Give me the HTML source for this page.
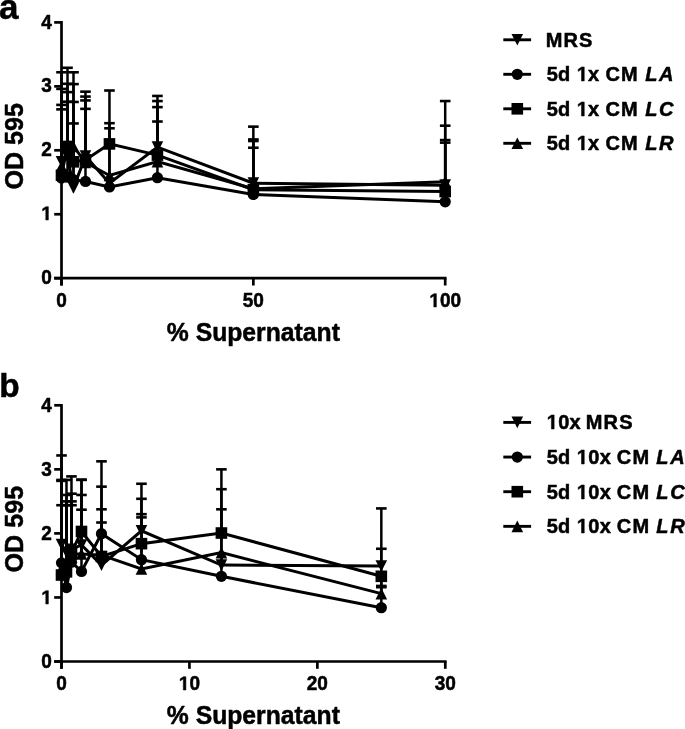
<!DOCTYPE html>
<html><head><meta charset="utf-8"><style>
html,body{margin:0;padding:0;background:#fff;overflow:hidden}
svg{display:block;will-change:transform}
text{font-family:"Liberation Sans", sans-serif;font-weight:bold;fill:#000}
</style></head><body>
<svg width="685" height="729" viewBox="0 0 685 729" stroke="#000" fill="#000">
<text x="51.9" y="284" font-size="19" text-anchor="end" transform="matrix(1,0,0,1.02,0,-5.68)" stroke="#000" stroke-width="0.5" stroke-linejoin="round" >0</text>
<path transform="translate(41.33,220) scale(0.00928,-0.00946)" stroke="#000" stroke-width="53.89" stroke-linejoin="round" d="M478,0L759,0L759,1409L493,1409L140,1180L140,959L478,1170Z"/>
<text x="51.9" y="220" font-size="19" text-anchor="end" transform="matrix(1,0,0,1.02,0,-4.4)" stroke="#000" stroke-width="0.5" stroke-linejoin="round" > </text>
<text x="51.9" y="156" font-size="19" text-anchor="end" transform="matrix(1,0,0,1.02,0,-3.12)" stroke="#000" stroke-width="0.5" stroke-linejoin="round" >2</text>
<text x="51.9" y="92" font-size="19" text-anchor="end" transform="matrix(1,0,0,1.02,0,-1.84)" stroke="#000" stroke-width="0.5" stroke-linejoin="round" >3</text>
<text x="51.9" y="29" font-size="19" text-anchor="end" transform="matrix(1,0,0,1.02,0,-0.58)" stroke="#000" stroke-width="0.5" stroke-linejoin="round" >4</text>
<text x="61.5" y="307" font-size="19" text-anchor="middle" transform="matrix(1,0,0,1.02,0,-6.14)" stroke="#000" stroke-width="0.5" stroke-linejoin="round" >0</text>
<text x="253.35" y="307" font-size="19" text-anchor="middle" transform="matrix(1,0,0,1.02,0,-6.14)" stroke="#000" stroke-width="0.5" stroke-linejoin="round" >50</text>
<path transform="translate(429.35,307) scale(0.00928,-0.00946)" stroke="#000" stroke-width="53.89" stroke-linejoin="round" d="M478,0L759,0L759,1409L493,1409L140,1180L140,959L478,1170Z"/>
<text x="445.2" y="307" font-size="19" text-anchor="middle" transform="matrix(1,0,0,1.02,0,-6.14)" stroke="#000" stroke-width="0.5" stroke-linejoin="round" > 00</text>
<line x1="61.5" y1="161.81" x2="61.5" y2="72.28" stroke-width="2.5" stroke-linecap="butt"/>
<line x1="56.2" y1="72.28" x2="66.8" y2="72.28" stroke-width="2.6" stroke-linecap="butt"/>
<line x1="67.5" y1="156.69" x2="67.5" y2="67.8" stroke-width="2.5" stroke-linecap="butt"/>
<line x1="62.2" y1="67.8" x2="72.8" y2="67.8" stroke-width="2.6" stroke-linecap="butt"/>
<line x1="73.49" y1="188.03" x2="73.49" y2="72.28" stroke-width="2.5" stroke-linecap="butt"/>
<line x1="68.19" y1="72.28" x2="78.79" y2="72.28" stroke-width="2.6" stroke-linecap="butt"/>
<line x1="85.48" y1="156.06" x2="85.48" y2="91.66" stroke-width="2.5" stroke-linecap="butt"/>
<line x1="80.18" y1="91.66" x2="90.78" y2="91.66" stroke-width="2.6" stroke-linecap="butt"/>
<line x1="109.46" y1="183.23" x2="109.46" y2="90.51" stroke-width="2.5" stroke-linecap="butt"/>
<line x1="104.16" y1="90.51" x2="114.76" y2="90.51" stroke-width="2.6" stroke-linecap="butt"/>
<line x1="157.43" y1="147.1" x2="157.43" y2="95.94" stroke-width="2.5" stroke-linecap="butt"/>
<line x1="152.12" y1="95.94" x2="162.73" y2="95.94" stroke-width="2.6" stroke-linecap="butt"/>
<line x1="253.35" y1="183.17" x2="253.35" y2="126.64" stroke-width="2.5" stroke-linecap="butt"/>
<line x1="248.05" y1="126.64" x2="258.65" y2="126.64" stroke-width="2.6" stroke-linecap="butt"/>
<line x1="445.2" y1="185.15" x2="445.2" y2="101.06" stroke-width="2.5" stroke-linecap="butt"/>
<line x1="439.9" y1="101.06" x2="450.5" y2="101.06" stroke-width="2.6" stroke-linecap="butt"/>
<line x1="61.5" y1="178.12" x2="61.5" y2="88.91" stroke-width="2.5" stroke-linecap="butt"/>
<line x1="56.2" y1="88.91" x2="66.8" y2="88.91" stroke-width="2.6" stroke-linecap="butt"/>
<line x1="67.5" y1="177.16" x2="67.5" y2="83.79" stroke-width="2.5" stroke-linecap="butt"/>
<line x1="62.2" y1="83.79" x2="72.8" y2="83.79" stroke-width="2.6" stroke-linecap="butt"/>
<line x1="73.49" y1="179.72" x2="73.49" y2="84.11" stroke-width="2.5" stroke-linecap="butt"/>
<line x1="68.19" y1="84.11" x2="78.79" y2="84.11" stroke-width="2.6" stroke-linecap="butt"/>
<line x1="85.48" y1="181.44" x2="85.48" y2="96.58" stroke-width="2.5" stroke-linecap="butt"/>
<line x1="80.18" y1="96.58" x2="90.78" y2="96.58" stroke-width="2.6" stroke-linecap="butt"/>
<line x1="109.46" y1="186.94" x2="109.46" y2="123.19" stroke-width="2.5" stroke-linecap="butt"/>
<line x1="104.16" y1="123.19" x2="114.76" y2="123.19" stroke-width="2.6" stroke-linecap="butt"/>
<line x1="157.43" y1="177.73" x2="157.43" y2="101.06" stroke-width="2.5" stroke-linecap="butt"/>
<line x1="152.12" y1="101.06" x2="162.73" y2="101.06" stroke-width="2.6" stroke-linecap="butt"/>
<line x1="253.35" y1="194.43" x2="253.35" y2="139.43" stroke-width="2.5" stroke-linecap="butt"/>
<line x1="248.05" y1="139.43" x2="258.65" y2="139.43" stroke-width="2.6" stroke-linecap="butt"/>
<line x1="445.2" y1="201.78" x2="445.2" y2="125.68" stroke-width="2.5" stroke-linecap="butt"/>
<line x1="439.9" y1="125.68" x2="450.5" y2="125.68" stroke-width="2.6" stroke-linecap="butt"/>
<line x1="61.5" y1="175.24" x2="61.5" y2="104.9" stroke-width="2.5" stroke-linecap="butt"/>
<line x1="56.2" y1="104.9" x2="66.8" y2="104.9" stroke-width="2.6" stroke-linecap="butt"/>
<line x1="67.5" y1="146.46" x2="67.5" y2="92.11" stroke-width="2.5" stroke-linecap="butt"/>
<line x1="62.2" y1="92.11" x2="72.8" y2="92.11" stroke-width="2.6" stroke-linecap="butt"/>
<line x1="73.49" y1="161.81" x2="73.49" y2="101.95" stroke-width="2.5" stroke-linecap="butt"/>
<line x1="68.19" y1="101.95" x2="78.79" y2="101.95" stroke-width="2.6" stroke-linecap="butt"/>
<line x1="85.48" y1="159.89" x2="85.48" y2="100.42" stroke-width="2.5" stroke-linecap="butt"/>
<line x1="80.18" y1="100.42" x2="90.78" y2="100.42" stroke-width="2.6" stroke-linecap="butt"/>
<line x1="109.46" y1="143.9" x2="109.46" y2="128.3" stroke-width="2.5" stroke-linecap="butt"/>
<line x1="104.16" y1="128.3" x2="114.76" y2="128.3" stroke-width="2.6" stroke-linecap="butt"/>
<line x1="157.43" y1="155.1" x2="157.43" y2="107.13" stroke-width="2.5" stroke-linecap="butt"/>
<line x1="152.12" y1="107.13" x2="162.73" y2="107.13" stroke-width="2.6" stroke-linecap="butt"/>
<line x1="253.35" y1="189.63" x2="253.35" y2="141.03" stroke-width="2.5" stroke-linecap="butt"/>
<line x1="248.05" y1="141.03" x2="258.65" y2="141.03" stroke-width="2.6" stroke-linecap="butt"/>
<line x1="445.2" y1="191.61" x2="445.2" y2="140.07" stroke-width="2.5" stroke-linecap="butt"/>
<line x1="439.9" y1="140.07" x2="450.5" y2="140.07" stroke-width="2.6" stroke-linecap="butt"/>
<line x1="61.5" y1="166.29" x2="61.5" y2="109.37" stroke-width="2.5" stroke-linecap="butt"/>
<line x1="56.2" y1="109.37" x2="66.8" y2="109.37" stroke-width="2.6" stroke-linecap="butt"/>
<line x1="67.5" y1="153.5" x2="67.5" y2="101.7" stroke-width="2.5" stroke-linecap="butt"/>
<line x1="62.2" y1="101.7" x2="72.8" y2="101.7" stroke-width="2.6" stroke-linecap="butt"/>
<line x1="73.49" y1="146.46" x2="73.49" y2="123.44" stroke-width="2.5" stroke-linecap="butt"/>
<line x1="68.19" y1="123.44" x2="78.79" y2="123.44" stroke-width="2.6" stroke-linecap="butt"/>
<line x1="85.48" y1="162.45" x2="85.48" y2="108.86" stroke-width="2.5" stroke-linecap="butt"/>
<line x1="80.18" y1="108.86" x2="90.78" y2="108.86" stroke-width="2.6" stroke-linecap="butt"/>
<line x1="157.43" y1="161.62" x2="157.43" y2="121.52" stroke-width="2.5" stroke-linecap="butt"/>
<line x1="152.12" y1="121.52" x2="162.73" y2="121.52" stroke-width="2.6" stroke-linecap="butt"/>
<line x1="253.35" y1="188.67" x2="253.35" y2="147.74" stroke-width="2.5" stroke-linecap="butt"/>
<line x1="248.05" y1="147.74" x2="258.65" y2="147.74" stroke-width="2.6" stroke-linecap="butt"/>
<line x1="445.2" y1="181.64" x2="445.2" y2="142.63" stroke-width="2.5" stroke-linecap="butt"/>
<line x1="439.9" y1="142.63" x2="450.5" y2="142.63" stroke-width="2.6" stroke-linecap="butt"/>
<polyline fill="none" stroke-width="3" stroke-linejoin="miter" points="61.5,161.81 67.5,156.69 73.49,188.03 85.48,156.06 109.46,183.23 157.43,147.1 253.35,183.17 445.2,185.15"/>
<polyline fill="none" stroke-width="3" stroke-linejoin="miter" points="61.5,178.12 67.5,177.16 73.49,179.72 85.48,181.44 109.46,186.94 157.43,177.73 253.35,194.43 445.2,201.78"/>
<polyline fill="none" stroke-width="3" stroke-linejoin="miter" points="61.5,175.24 67.5,146.46 73.49,161.81 85.48,159.89 109.46,143.9 157.43,155.1 253.35,189.63 445.2,191.61"/>
<polyline fill="none" stroke-width="3" stroke-linejoin="miter" points="61.5,166.29 67.5,153.5 73.49,146.46 85.48,162.45 109.46,175.5 157.43,161.62 253.35,188.67 445.2,181.64"/>
<path stroke="none" d="M55.7,156.01L67.3,156.01L61.5,167.61Z"/>
<path stroke="none" d="M61.7,150.89L73.3,150.89L67.5,162.5Z"/>
<path stroke="none" d="M67.69,182.23L79.29,182.23L73.49,193.83Z"/>
<path stroke="none" d="M79.68,150.26L91.28,150.26L85.48,161.86Z"/>
<path stroke="none" d="M103.66,177.43L115.26,177.43L109.46,189.03Z"/>
<path stroke="none" d="M151.62,141.3L163.23,141.3L157.43,152.9Z"/>
<path stroke="none" d="M247.55,177.37L259.15,177.37L253.35,188.97Z"/>
<path stroke="none" d="M439.4,179.35L451,179.35L445.2,190.95Z"/>
<circle cx="61.5" cy="178.12" r="5.63" stroke="none"/>
<circle cx="67.5" cy="177.16" r="5.63" stroke="none"/>
<circle cx="73.49" cy="179.72" r="5.63" stroke="none"/>
<circle cx="85.48" cy="181.44" r="5.63" stroke="none"/>
<circle cx="109.46" cy="186.94" r="5.63" stroke="none"/>
<circle cx="157.43" cy="177.73" r="5.63" stroke="none"/>
<circle cx="253.35" cy="194.43" r="5.63" stroke="none"/>
<circle cx="445.2" cy="201.78" r="5.63" stroke="none"/>
<rect x="55.7" y="169.44" width="11.6" height="11.6" stroke="none"/>
<rect x="61.7" y="140.66" width="11.6" height="11.6" stroke="none"/>
<rect x="67.69" y="156.01" width="11.6" height="11.6" stroke="none"/>
<rect x="79.68" y="154.09" width="11.6" height="11.6" stroke="none"/>
<rect x="103.66" y="138.1" width="11.6" height="11.6" stroke="none"/>
<rect x="151.62" y="149.3" width="11.6" height="11.6" stroke="none"/>
<rect x="247.55" y="183.83" width="11.6" height="11.6" stroke="none"/>
<rect x="439.4" y="185.81" width="11.6" height="11.6" stroke="none"/>
<path stroke="none" d="M61.5,160.49L67.3,172.09L55.7,172.09Z"/>
<path stroke="none" d="M67.5,147.7L73.3,159.3L61.7,159.3Z"/>
<path stroke="none" d="M73.49,140.66L79.29,152.26L67.69,152.26Z"/>
<path stroke="none" d="M85.48,156.65L91.28,168.25L79.68,168.25Z"/>
<path stroke="none" d="M109.46,169.7L115.26,181.3L103.66,181.3Z"/>
<path stroke="none" d="M157.43,155.82L163.23,167.42L151.62,167.42Z"/>
<path stroke="none" d="M253.35,182.87L259.15,194.47L247.55,194.47Z"/>
<path stroke="none" d="M445.2,175.84L451,187.44L439.4,187.44Z"/>
<line x1="61.5" y1="21.05" x2="61.5" y2="285.5" stroke-width="2.7" stroke-linecap="butt"/>
<line x1="54.2" y1="278.2" x2="446.55" y2="278.2" stroke-width="2.7" stroke-linecap="butt"/>
<line x1="54.2" y1="278.2" x2="61.5" y2="278.2" stroke-width="2.7" stroke-linecap="butt"/>
<line x1="54.2" y1="214.25" x2="61.5" y2="214.25" stroke-width="2.7" stroke-linecap="butt"/>
<line x1="54.2" y1="150.3" x2="61.5" y2="150.3" stroke-width="2.7" stroke-linecap="butt"/>
<line x1="54.2" y1="86.35" x2="61.5" y2="86.35" stroke-width="2.7" stroke-linecap="butt"/>
<line x1="54.2" y1="22.4" x2="61.5" y2="22.4" stroke-width="2.7" stroke-linecap="butt"/>
<line x1="61.5" y1="278.2" x2="61.5" y2="285.5" stroke-width="2.7" stroke-linecap="butt"/>
<line x1="253.35" y1="278.2" x2="253.35" y2="285.5" stroke-width="2.7" stroke-linecap="butt"/>
<line x1="445.2" y1="278.2" x2="445.2" y2="285.5" stroke-width="2.7" stroke-linecap="butt"/>
<text x="51.9" y="668" font-size="19" text-anchor="end" transform="matrix(1,0,0,1.02,0,-13.36)" stroke="#000" stroke-width="0.5" stroke-linejoin="round" >0</text>
<path transform="translate(41.33,604) scale(0.00928,-0.00946)" stroke="#000" stroke-width="53.89" stroke-linejoin="round" d="M478,0L759,0L759,1409L493,1409L140,1180L140,959L478,1170Z"/>
<text x="51.9" y="604" font-size="19" text-anchor="end" transform="matrix(1,0,0,1.02,0,-12.08)" stroke="#000" stroke-width="0.5" stroke-linejoin="round" > </text>
<text x="51.9" y="540" font-size="19" text-anchor="end" transform="matrix(1,0,0,1.02,0,-10.8)" stroke="#000" stroke-width="0.5" stroke-linejoin="round" >2</text>
<text x="51.9" y="476" font-size="19" text-anchor="end" transform="matrix(1,0,0,1.02,0,-9.52)" stroke="#000" stroke-width="0.5" stroke-linejoin="round" >3</text>
<text x="51.9" y="412" font-size="19" text-anchor="end" transform="matrix(1,0,0,1.02,0,-8.24)" stroke="#000" stroke-width="0.5" stroke-linejoin="round" >4</text>
<text x="61.5" y="690" font-size="19" text-anchor="middle" transform="matrix(1,0,0,1.02,0,-13.8)" stroke="#000" stroke-width="0.5" stroke-linejoin="round" >0</text>
<path transform="translate(178.86,690) scale(0.00928,-0.00946)" stroke="#000" stroke-width="53.89" stroke-linejoin="round" d="M478,0L759,0L759,1409L493,1409L140,1180L140,959L478,1170Z"/>
<text x="189.43" y="690" font-size="19" text-anchor="middle" transform="matrix(1,0,0,1.02,0,-13.8)" stroke="#000" stroke-width="0.5" stroke-linejoin="round" > 0</text>
<text x="317.36" y="690" font-size="19" text-anchor="middle" transform="matrix(1,0,0,1.02,0,-13.8)" stroke="#000" stroke-width="0.5" stroke-linejoin="round" >20</text>
<text x="445.29" y="690" font-size="19" text-anchor="middle" transform="matrix(1,0,0,1.02,0,-13.8)" stroke="#000" stroke-width="0.5" stroke-linejoin="round" >30</text>
<line x1="61.5" y1="544.54" x2="61.5" y2="455.45" stroke-width="2.5" stroke-linecap="butt"/>
<line x1="56.2" y1="455.45" x2="66.8" y2="455.45" stroke-width="2.6" stroke-linecap="butt"/>
<line x1="66.49" y1="552.62" x2="66.49" y2="479.92" stroke-width="2.5" stroke-linecap="butt"/>
<line x1="61.19" y1="479.92" x2="71.79" y2="479.92" stroke-width="2.6" stroke-linecap="butt"/>
<line x1="71.48" y1="549.41" x2="71.48" y2="476.4" stroke-width="2.5" stroke-linecap="butt"/>
<line x1="66.18" y1="476.4" x2="76.78" y2="476.4" stroke-width="2.6" stroke-linecap="butt"/>
<line x1="81.49" y1="544.93" x2="81.49" y2="479.92" stroke-width="2.5" stroke-linecap="butt"/>
<line x1="76.19" y1="479.92" x2="86.79" y2="479.92" stroke-width="2.6" stroke-linecap="butt"/>
<line x1="101.48" y1="565.1" x2="101.48" y2="461.34" stroke-width="2.5" stroke-linecap="butt"/>
<line x1="96.18" y1="461.34" x2="106.78" y2="461.34" stroke-width="2.6" stroke-linecap="butt"/>
<line x1="141.46" y1="530.84" x2="141.46" y2="483.76" stroke-width="2.5" stroke-linecap="butt"/>
<line x1="136.16" y1="483.76" x2="146.76" y2="483.76" stroke-width="2.6" stroke-linecap="butt"/>
<line x1="221.41" y1="565.1" x2="221.41" y2="469.35" stroke-width="2.5" stroke-linecap="butt"/>
<line x1="216.11" y1="469.35" x2="226.71" y2="469.35" stroke-width="2.6" stroke-linecap="butt"/>
<line x1="381.32" y1="566.07" x2="381.32" y2="508.42" stroke-width="2.5" stroke-linecap="butt"/>
<line x1="376.02" y1="508.42" x2="386.62" y2="508.42" stroke-width="2.6" stroke-linecap="butt"/>
<line x1="61.5" y1="562.86" x2="61.5" y2="479.92" stroke-width="2.5" stroke-linecap="butt"/>
<line x1="56.2" y1="479.92" x2="66.8" y2="479.92" stroke-width="2.6" stroke-linecap="butt"/>
<line x1="66.49" y1="587.52" x2="66.49" y2="494.97" stroke-width="2.5" stroke-linecap="butt"/>
<line x1="61.19" y1="494.97" x2="71.79" y2="494.97" stroke-width="2.6" stroke-linecap="butt"/>
<line x1="71.48" y1="562.22" x2="71.48" y2="493.69" stroke-width="2.5" stroke-linecap="butt"/>
<line x1="66.18" y1="493.69" x2="76.78" y2="493.69" stroke-width="2.6" stroke-linecap="butt"/>
<line x1="81.49" y1="571.45" x2="81.49" y2="494.97" stroke-width="2.5" stroke-linecap="butt"/>
<line x1="76.19" y1="494.97" x2="86.79" y2="494.97" stroke-width="2.6" stroke-linecap="butt"/>
<line x1="101.48" y1="533.72" x2="101.48" y2="486.64" stroke-width="2.5" stroke-linecap="butt"/>
<line x1="96.18" y1="486.64" x2="106.78" y2="486.64" stroke-width="2.6" stroke-linecap="butt"/>
<line x1="141.46" y1="559.66" x2="141.46" y2="498.81" stroke-width="2.5" stroke-linecap="butt"/>
<line x1="136.16" y1="498.81" x2="146.76" y2="498.81" stroke-width="2.6" stroke-linecap="butt"/>
<line x1="221.41" y1="576.31" x2="221.41" y2="489.21" stroke-width="2.5" stroke-linecap="butt"/>
<line x1="216.11" y1="489.21" x2="226.71" y2="489.21" stroke-width="2.6" stroke-linecap="butt"/>
<line x1="381.32" y1="607.7" x2="381.32" y2="548.77" stroke-width="2.5" stroke-linecap="butt"/>
<line x1="376.02" y1="548.77" x2="386.62" y2="548.77" stroke-width="2.6" stroke-linecap="butt"/>
<line x1="61.5" y1="575.03" x2="61.5" y2="480.88" stroke-width="2.5" stroke-linecap="butt"/>
<line x1="56.2" y1="480.88" x2="66.8" y2="480.88" stroke-width="2.6" stroke-linecap="butt"/>
<line x1="66.49" y1="571.83" x2="66.49" y2="505.22" stroke-width="2.5" stroke-linecap="butt"/>
<line x1="61.19" y1="505.22" x2="71.79" y2="505.22" stroke-width="2.6" stroke-linecap="butt"/>
<line x1="71.48" y1="552.62" x2="71.48" y2="505.22" stroke-width="2.5" stroke-linecap="butt"/>
<line x1="66.18" y1="505.22" x2="76.78" y2="505.22" stroke-width="2.6" stroke-linecap="butt"/>
<line x1="81.49" y1="531.48" x2="81.49" y2="509.7" stroke-width="2.5" stroke-linecap="butt"/>
<line x1="76.19" y1="509.7" x2="86.79" y2="509.7" stroke-width="2.6" stroke-linecap="butt"/>
<line x1="101.48" y1="556.46" x2="101.48" y2="509.32" stroke-width="2.5" stroke-linecap="butt"/>
<line x1="96.18" y1="509.32" x2="106.78" y2="509.32" stroke-width="2.6" stroke-linecap="butt"/>
<line x1="141.46" y1="543.65" x2="141.46" y2="514.19" stroke-width="2.5" stroke-linecap="butt"/>
<line x1="136.16" y1="514.19" x2="146.76" y2="514.19" stroke-width="2.6" stroke-linecap="butt"/>
<line x1="221.41" y1="533.02" x2="221.41" y2="509.32" stroke-width="2.5" stroke-linecap="butt"/>
<line x1="216.11" y1="509.32" x2="226.71" y2="509.32" stroke-width="2.6" stroke-linecap="butt"/>
<line x1="381.32" y1="576.31" x2="381.32" y2="585.92" stroke-width="2.5" stroke-linecap="butt"/>
<line x1="376.02" y1="585.92" x2="386.62" y2="585.92" stroke-width="2.6" stroke-linecap="butt"/>
<line x1="61.5" y1="568.63" x2="61.5" y2="505.22" stroke-width="2.5" stroke-linecap="butt"/>
<line x1="56.2" y1="505.22" x2="66.8" y2="505.22" stroke-width="2.6" stroke-linecap="butt"/>
<line x1="66.49" y1="562.22" x2="66.49" y2="501.38" stroke-width="2.5" stroke-linecap="butt"/>
<line x1="61.19" y1="501.38" x2="71.79" y2="501.38" stroke-width="2.6" stroke-linecap="butt"/>
<line x1="71.48" y1="553.9" x2="71.48" y2="501.38" stroke-width="2.5" stroke-linecap="butt"/>
<line x1="66.18" y1="501.38" x2="76.78" y2="501.38" stroke-width="2.6" stroke-linecap="butt"/>
<line x1="81.49" y1="553.9" x2="81.49" y2="479.6" stroke-width="2.5" stroke-linecap="butt"/>
<line x1="76.19" y1="479.6" x2="86.79" y2="479.6" stroke-width="2.6" stroke-linecap="butt"/>
<line x1="101.48" y1="555.18" x2="101.48" y2="522.51" stroke-width="2.5" stroke-linecap="butt"/>
<line x1="96.18" y1="522.51" x2="106.78" y2="522.51" stroke-width="2.6" stroke-linecap="butt"/>
<line x1="141.46" y1="568.95" x2="141.46" y2="517.39" stroke-width="2.5" stroke-linecap="butt"/>
<line x1="136.16" y1="517.39" x2="146.76" y2="517.39" stroke-width="2.6" stroke-linecap="butt"/>
<line x1="381.32" y1="593.61" x2="381.32" y2="587.2" stroke-width="2.5" stroke-linecap="butt"/>
<line x1="376.02" y1="587.2" x2="386.62" y2="587.2" stroke-width="2.6" stroke-linecap="butt"/>
<polyline fill="none" stroke-width="3" stroke-linejoin="miter" points="61.5,544.54 66.49,552.62 71.48,549.41 81.49,544.93 101.48,565.1 141.46,530.84 221.41,565.1 381.32,566.07"/>
<polyline fill="none" stroke-width="3" stroke-linejoin="miter" points="61.5,562.86 66.49,587.52 71.48,562.22 81.49,571.45 101.48,533.72 141.46,559.66 221.41,576.31 381.32,607.7"/>
<polyline fill="none" stroke-width="3" stroke-linejoin="miter" points="61.5,575.03 66.49,571.83 71.48,552.62 81.49,531.48 101.48,556.46 141.46,543.65 221.41,533.02 381.32,576.31"/>
<polyline fill="none" stroke-width="3" stroke-linejoin="miter" points="61.5,568.63 66.49,562.22 71.48,553.9 81.49,553.9 101.48,555.18 141.46,568.95 221.41,552.62 381.32,593.61"/>
<path stroke="none" d="M55.7,538.74L67.3,538.74L61.5,550.34Z"/>
<path stroke="none" d="M60.69,546.82L72.29,546.82L66.49,558.41Z"/>
<path stroke="none" d="M65.68,543.61L77.28,543.61L71.48,555.21Z"/>
<path stroke="none" d="M75.69,539.13L87.29,539.13L81.49,550.73Z"/>
<path stroke="none" d="M95.68,559.3L107.28,559.3L101.48,570.9Z"/>
<path stroke="none" d="M135.66,525.04L147.26,525.04L141.46,536.64Z"/>
<path stroke="none" d="M215.61,559.3L227.21,559.3L221.41,570.9Z"/>
<path stroke="none" d="M375.52,560.27L387.12,560.27L381.32,571.87Z"/>
<circle cx="61.5" cy="562.86" r="5.63" stroke="none"/>
<circle cx="66.49" cy="587.52" r="5.63" stroke="none"/>
<circle cx="71.48" cy="562.22" r="5.63" stroke="none"/>
<circle cx="81.49" cy="571.45" r="5.63" stroke="none"/>
<circle cx="101.48" cy="533.72" r="5.63" stroke="none"/>
<circle cx="141.46" cy="559.66" r="5.63" stroke="none"/>
<circle cx="221.41" cy="576.31" r="5.63" stroke="none"/>
<circle cx="381.32" cy="607.7" r="5.63" stroke="none"/>
<rect x="55.7" y="569.23" width="11.6" height="11.6" stroke="none"/>
<rect x="60.69" y="566.03" width="11.6" height="11.6" stroke="none"/>
<rect x="65.68" y="546.82" width="11.6" height="11.6" stroke="none"/>
<rect x="75.69" y="525.68" width="11.6" height="11.6" stroke="none"/>
<rect x="95.68" y="550.66" width="11.6" height="11.6" stroke="none"/>
<rect x="135.66" y="537.85" width="11.6" height="11.6" stroke="none"/>
<rect x="215.61" y="527.22" width="11.6" height="11.6" stroke="none"/>
<rect x="375.52" y="570.51" width="11.6" height="11.6" stroke="none"/>
<path stroke="none" d="M61.5,562.83L67.3,574.43L55.7,574.43Z"/>
<path stroke="none" d="M66.49,556.42L72.29,568.02L60.69,568.02Z"/>
<path stroke="none" d="M71.48,548.1L77.28,559.7L65.68,559.7Z"/>
<path stroke="none" d="M81.49,548.1L87.29,559.7L75.69,559.7Z"/>
<path stroke="none" d="M101.48,549.38L107.28,560.98L95.68,560.98Z"/>
<path stroke="none" d="M141.46,563.15L147.26,574.75L135.66,574.75Z"/>
<path stroke="none" d="M221.41,546.82L227.21,558.41L215.61,558.41Z"/>
<path stroke="none" d="M381.32,587.81L387.12,599.41L375.52,599.41Z"/>
<line x1="61.5" y1="403.95" x2="61.5" y2="668.8" stroke-width="2.7" stroke-linecap="butt"/>
<line x1="54.2" y1="661.5" x2="446.64" y2="661.5" stroke-width="2.7" stroke-linecap="butt"/>
<line x1="54.2" y1="661.5" x2="61.5" y2="661.5" stroke-width="2.7" stroke-linecap="butt"/>
<line x1="54.2" y1="597.45" x2="61.5" y2="597.45" stroke-width="2.7" stroke-linecap="butt"/>
<line x1="54.2" y1="533.4" x2="61.5" y2="533.4" stroke-width="2.7" stroke-linecap="butt"/>
<line x1="54.2" y1="469.35" x2="61.5" y2="469.35" stroke-width="2.7" stroke-linecap="butt"/>
<line x1="54.2" y1="405.3" x2="61.5" y2="405.3" stroke-width="2.7" stroke-linecap="butt"/>
<line x1="61.5" y1="661.5" x2="61.5" y2="668.8" stroke-width="2.7" stroke-linecap="butt"/>
<line x1="189.43" y1="661.5" x2="189.43" y2="668.8" stroke-width="2.7" stroke-linecap="butt"/>
<line x1="317.36" y1="661.5" x2="317.36" y2="668.8" stroke-width="2.7" stroke-linecap="butt"/>
<line x1="445.29" y1="661.5" x2="445.29" y2="668.8" stroke-width="2.7" stroke-linecap="butt"/>
<text x="-1" y="19" font-size="35" text-anchor="start" transform="matrix(1,0,0,1.02,0,-0.38)" stroke="#000" stroke-width="0.5" stroke-linejoin="round" >a</text>
<text x="-0.7" y="397" font-size="33.4" text-anchor="start" transform="matrix(1,0,0,1.02,0,-7.94)" stroke="#000" stroke-width="0.5" stroke-linejoin="round" >b</text>
<text x="166.8" y="341" font-size="26" text-anchor="start" transform="matrix(1,0,0,1.02,0,-6.82)" stroke="#000" stroke-width="0.5" stroke-linejoin="round" textLength="173.1" lengthAdjust="spacingAndGlyphs">% Supernatant</text>
<text x="166.8" y="724" font-size="26" text-anchor="start" transform="matrix(1,0,0,1.02,0,-14.48)" stroke="#000" stroke-width="0.5" stroke-linejoin="round" textLength="173.1" lengthAdjust="spacingAndGlyphs">% Supernatant</text>
<text transform="translate(22.6,146.25) rotate(-90)" font-size="26" text-anchor="middle" textLength="86.5" lengthAdjust="spacingAndGlyphs" stroke="#000" stroke-width="0.5" stroke-linejoin="round">OD 595</text>
<text transform="translate(22.6,529.15) rotate(-90)" font-size="26" text-anchor="middle" textLength="86.5" lengthAdjust="spacingAndGlyphs" stroke="#000" stroke-width="0.5" stroke-linejoin="round">OD 595</text>
<line x1="503.3" y1="39.8" x2="531.1" y2="39.8" stroke-width="2.9" stroke-linecap="butt"/>
<path stroke="none" d="M511.5,34L523.1,34L517.3,45.6Z"/>
<text x="545.86" y="47" font-size="20" text-anchor="start" transform="matrix(1,0,0,1.02,0,-0.94)" stroke="#000" stroke-width="0.5" stroke-linejoin="round" letter-spacing="1.0" >MRS</text>
<line x1="503.3" y1="74.3" x2="531.1" y2="74.3" stroke-width="2.9" stroke-linecap="butt"/>
<circle cx="517.3" cy="74.3" r="5.63" stroke="none"/>
<text x="546.78" y="81" font-size="20" text-anchor="start" transform="matrix(1,0,0,1.02,0,-1.62)" stroke="#000" stroke-width="0.5" stroke-linejoin="round" >5d</text>
<path transform="translate(576.84,81) scale(0.00977,-0.00996)" stroke="#000" stroke-width="51.2" stroke-linejoin="round" d="M478,0L759,0L759,1409L493,1409L140,1180L140,959L478,1170Z"/>
<text x="576.84" y="81" font-size="20" text-anchor="start" transform="matrix(1,0,0,1.02,0,-1.62)" stroke="#000" stroke-width="0.5" stroke-linejoin="round" > x</text>
<text x="605.58" y="81" font-size="20" text-anchor="start" transform="matrix(1,0,0,1.02,0,-1.62)" stroke="#000" stroke-width="0.5" stroke-linejoin="round" letter-spacing="1.0" >CM</text>
<text x="645.24" y="81" font-size="20" text-anchor="start" transform="matrix(1,0,0,1.02,0,-1.62)" stroke="#000" stroke-width="0.5" stroke-linejoin="round" letter-spacing="1.6" font-style="italic" >LA</text>
<line x1="503.3" y1="108.8" x2="531.1" y2="108.8" stroke-width="2.9" stroke-linecap="butt"/>
<rect x="511.5" y="103" width="11.6" height="11.6" stroke="none"/>
<text x="546.78" y="116" font-size="20" text-anchor="start" transform="matrix(1,0,0,1.02,0,-2.32)" stroke="#000" stroke-width="0.5" stroke-linejoin="round" >5d</text>
<path transform="translate(576.84,116) scale(0.00977,-0.00996)" stroke="#000" stroke-width="51.2" stroke-linejoin="round" d="M478,0L759,0L759,1409L493,1409L140,1180L140,959L478,1170Z"/>
<text x="576.84" y="116" font-size="20" text-anchor="start" transform="matrix(1,0,0,1.02,0,-2.32)" stroke="#000" stroke-width="0.5" stroke-linejoin="round" > x</text>
<text x="605.58" y="116" font-size="20" text-anchor="start" transform="matrix(1,0,0,1.02,0,-2.32)" stroke="#000" stroke-width="0.5" stroke-linejoin="round" letter-spacing="1.0" >CM</text>
<text x="645.24" y="116" font-size="20" text-anchor="start" transform="matrix(1,0,0,1.02,0,-2.32)" stroke="#000" stroke-width="0.5" stroke-linejoin="round" letter-spacing="1.6" font-style="italic" >LC</text>
<line x1="503.3" y1="143.3" x2="531.1" y2="143.3" stroke-width="2.9" stroke-linecap="butt"/>
<path stroke="none" d="M517.3,137.5L523.1,149.1L511.5,149.1Z"/>
<text x="546.78" y="150" font-size="20" text-anchor="start" transform="matrix(1,0,0,1.02,0,-3)" stroke="#000" stroke-width="0.5" stroke-linejoin="round" >5d</text>
<path transform="translate(576.84,150) scale(0.00977,-0.00996)" stroke="#000" stroke-width="51.2" stroke-linejoin="round" d="M478,0L759,0L759,1409L493,1409L140,1180L140,959L478,1170Z"/>
<text x="576.84" y="150" font-size="20" text-anchor="start" transform="matrix(1,0,0,1.02,0,-3)" stroke="#000" stroke-width="0.5" stroke-linejoin="round" > x</text>
<text x="605.58" y="150" font-size="20" text-anchor="start" transform="matrix(1,0,0,1.02,0,-3)" stroke="#000" stroke-width="0.5" stroke-linejoin="round" letter-spacing="1.0" >CM</text>
<text x="645.24" y="150" font-size="20" text-anchor="start" transform="matrix(1,0,0,1.02,0,-3)" stroke="#000" stroke-width="0.5" stroke-linejoin="round" letter-spacing="1.6" font-style="italic" >LR</text>
<line x1="503.3" y1="422.4" x2="531.1" y2="422.4" stroke-width="2.9" stroke-linecap="butt"/>
<path stroke="none" d="M511.5,416.6L523.1,416.6L517.3,428.2Z"/>
<path transform="translate(546.74,429) scale(0.00977,-0.00996)" stroke="#000" stroke-width="51.2" stroke-linejoin="round" d="M478,0L759,0L759,1409L493,1409L140,1180L140,959L478,1170Z"/>
<text x="546.74" y="429" font-size="20" text-anchor="start" transform="matrix(1,0,0,1.02,0,-8.58)" stroke="#000" stroke-width="0.5" stroke-linejoin="round" letter-spacing="0.3" > 0x</text>
<text x="585.66" y="429" font-size="20" text-anchor="start" transform="matrix(1,0,0,1.02,0,-8.58)" stroke="#000" stroke-width="0.5" stroke-linejoin="round" letter-spacing="1.3" >MRS</text>
<line x1="503.3" y1="457.05" x2="531.1" y2="457.05" stroke-width="2.9" stroke-linecap="butt"/>
<circle cx="517.3" cy="457.05" r="5.63" stroke="none"/>
<text x="546.78" y="464" font-size="20" text-anchor="start" transform="matrix(1,0,0,1.02,0,-9.28)" stroke="#000" stroke-width="0.5" stroke-linejoin="round" >5d</text>
<path transform="translate(576.84,464) scale(0.00977,-0.00996)" stroke="#000" stroke-width="51.2" stroke-linejoin="round" d="M478,0L759,0L759,1409L493,1409L140,1180L140,959L478,1170Z"/>
<text x="576.84" y="464" font-size="20" text-anchor="start" transform="matrix(1,0,0,1.02,0,-9.28)" stroke="#000" stroke-width="0.5" stroke-linejoin="round" letter-spacing="0.3" > 0x</text>
<text x="616.78" y="464" font-size="20" text-anchor="start" transform="matrix(1,0,0,1.02,0,-9.28)" stroke="#000" stroke-width="0.5" stroke-linejoin="round" letter-spacing="1.2" >CM</text>
<text x="656.34" y="464" font-size="20" text-anchor="start" transform="matrix(1,0,0,1.02,0,-9.28)" stroke="#000" stroke-width="0.5" stroke-linejoin="round" letter-spacing="1.6" font-style="italic" >LA</text>
<line x1="503.3" y1="491.7" x2="531.1" y2="491.7" stroke-width="2.9" stroke-linecap="butt"/>
<rect x="511.5" y="485.9" width="11.6" height="11.6" stroke="none"/>
<text x="546.78" y="499" font-size="20" text-anchor="start" transform="matrix(1,0,0,1.02,0,-9.98)" stroke="#000" stroke-width="0.5" stroke-linejoin="round" >5d</text>
<path transform="translate(576.84,499) scale(0.00977,-0.00996)" stroke="#000" stroke-width="51.2" stroke-linejoin="round" d="M478,0L759,0L759,1409L493,1409L140,1180L140,959L478,1170Z"/>
<text x="576.84" y="499" font-size="20" text-anchor="start" transform="matrix(1,0,0,1.02,0,-9.98)" stroke="#000" stroke-width="0.5" stroke-linejoin="round" letter-spacing="0.3" > 0x</text>
<text x="616.78" y="499" font-size="20" text-anchor="start" transform="matrix(1,0,0,1.02,0,-9.98)" stroke="#000" stroke-width="0.5" stroke-linejoin="round" letter-spacing="1.2" >CM</text>
<text x="656.34" y="499" font-size="20" text-anchor="start" transform="matrix(1,0,0,1.02,0,-9.98)" stroke="#000" stroke-width="0.5" stroke-linejoin="round" letter-spacing="1.6" font-style="italic" >LC</text>
<line x1="503.3" y1="526.35" x2="531.1" y2="526.35" stroke-width="2.9" stroke-linecap="butt"/>
<path stroke="none" d="M517.3,520.55L523.1,532.15L511.5,532.15Z"/>
<text x="546.78" y="533" font-size="20" text-anchor="start" transform="matrix(1,0,0,1.02,0,-10.66)" stroke="#000" stroke-width="0.5" stroke-linejoin="round" >5d</text>
<path transform="translate(576.84,533) scale(0.00977,-0.00996)" stroke="#000" stroke-width="51.2" stroke-linejoin="round" d="M478,0L759,0L759,1409L493,1409L140,1180L140,959L478,1170Z"/>
<text x="576.84" y="533" font-size="20" text-anchor="start" transform="matrix(1,0,0,1.02,0,-10.66)" stroke="#000" stroke-width="0.5" stroke-linejoin="round" letter-spacing="0.3" > 0x</text>
<text x="616.78" y="533" font-size="20" text-anchor="start" transform="matrix(1,0,0,1.02,0,-10.66)" stroke="#000" stroke-width="0.5" stroke-linejoin="round" letter-spacing="1.2" >CM</text>
<text x="656.34" y="533" font-size="20" text-anchor="start" transform="matrix(1,0,0,1.02,0,-10.66)" stroke="#000" stroke-width="0.5" stroke-linejoin="round" letter-spacing="1.6" font-style="italic" >LR</text>
</svg></body></html>
